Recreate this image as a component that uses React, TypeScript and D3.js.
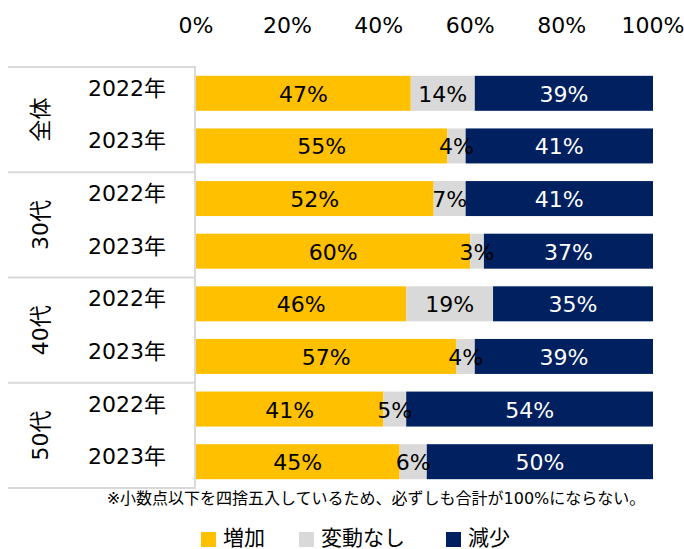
import React from "react";
import * as d3 from "d3";

const groups = ["全体", "30代", "40代", "50代"];
const years = ["2022年", "2023年"];
const seriesNames = ["増加", "変動なし", "減少"];
const seriesColors = ["#FFC000", "#D9D9D9", "#002060"];
const labelColors = ["#000000", "#000000", "#FFFFFF"];
const increase = [47, 55, 52, 60, 46, 57, 41, 45];
const noChange = [14, 4, 7, 3, 19, 4, 5, 6];
const decrease = [39, 41, 41, 37, 35, 39, 54, 50];
const ticks = [0, 0.2, 0.4, 0.6, 0.8, 1.0];
const footnote = "※小数点以下を四捨五入しているため、必ずしも合計が100%にならない。";

const W = 684;
const H = 549;
const FONT = "'DejaVu Sans', 'Noto Sans CJK JP', sans-serif";

export default function App() {
  const rows = groups.flatMap((g, gi) =>
    years.map((y, yi) => {
      const i = gi * 2 + yi;
      return { key: `${g}-${y}`, group: g, year: y, "増加": increase[i], "変動なし": noChange[i], "減少": decrease[i] };
    })
  );
  const stack = d3.stack<any>().keys(seriesNames).offset(d3.stackOffsetExpand);
  const layers = stack(rows);

  const x = d3.scaleLinear().domain([0, 1]).range([196, 653]);
  const tableTop = 67;
  const tableBottom = 488;
  const y = d3
    .scaleBand<string>()
    .domain(rows.map((r) => r.key))
    .range([tableTop, tableBottom])
    .paddingInner(0.335)
    .paddingOuter(0.1675);
  const groupH = (tableBottom - tableTop) / groups.length;

  const legendItems = [
    { sq: 201, tx: 223 },
    { sq: 299, tx: 321 },
    { sq: 446, tx: 468 },
  ];

  return (
    <svg width={W} height={H} style={{ position: "absolute", left: 0, top: 0 }} fontFamily={FONT}>
      <rect x={0} y={0} width={W} height={H} fill="#fff" />
      {ticks.map((t) => (
        <text key={t} x={x(t)} y={33} fontSize={22} textAnchor="middle" fill="#000">
          {d3.format(".0%")(t)}
        </text>
      ))}
      {d3.range(groups.length + 1).map((i) => (
        <line key={i} x1={8} x2={196} y1={tableTop + i * groupH} y2={tableTop + i * groupH} stroke="#D9D9D9" strokeWidth={2} />
      ))}
      <line x1={195} x2={195} y1={tableTop} y2={tableBottom} stroke="#D9D9D9" strokeWidth={2} />
      {groups.map((g, gi) => {
        const cy = tableTop + (gi + 0.5) * groupH;
        return (
          <text key={g} transform={`translate(40,${cy}) rotate(-90)`} fontSize={22} textAnchor="middle" dominantBaseline="central" fill="#000">
            {g}
          </text>
        );
      })}
      {rows.map((r) => (
        <text key={r.key} x={127} y={(y(r.key) as number) + y.bandwidth() / 2 - 5} fontSize={22} textAnchor="middle" dominantBaseline="central" fill="#000">
          {r.year}
        </text>
      ))}
      {layers.map((layer, li) => (
        <g key={layer.key}>
          {layer.map((d, di) => {
            const r = rows[di];
            const y0 = y(r.key) as number;
            const x0 = x(d[0]);
            const x1 = x(d[1]);
            return <rect key={r.key} x={x0} y={y0} width={x1 - x0} height={y.bandwidth()} fill={seriesColors[li]} />;
          })}
        </g>
      ))}
      {layers.map((layer, li) => (
        <g key={layer.key + "-lbl"}>
          {layer.map((d, di) => {
            const r = rows[di];
            const y0 = y(r.key) as number;
            const cx = (x(d[0]) + x(d[1])) / 2;
            return (
              <text key={r.key} x={cx} y={y0 + y.bandwidth() / 2 + 1} fontSize={22} textAnchor="middle" dominantBaseline="central" fill={labelColors[li]}>
                {`${(r as any)[layer.key]}%`}
              </text>
            );
          })}
        </g>
      ))}
      <text x={376} y={504} fontSize={16} textAnchor="middle" fill="#000">
        {footnote}
      </text>
      {seriesNames.map((s, i) => (
        <g key={s}>
          <rect x={legendItems[i].sq} y={532} width={15} height={15} fill={seriesColors[i]} />
          <text x={legendItems[i].tx} y={538} fontSize={21} dominantBaseline="central" fill="#000">
            {s}
          </text>
        </g>
      ))}
    </svg>
  );
}
